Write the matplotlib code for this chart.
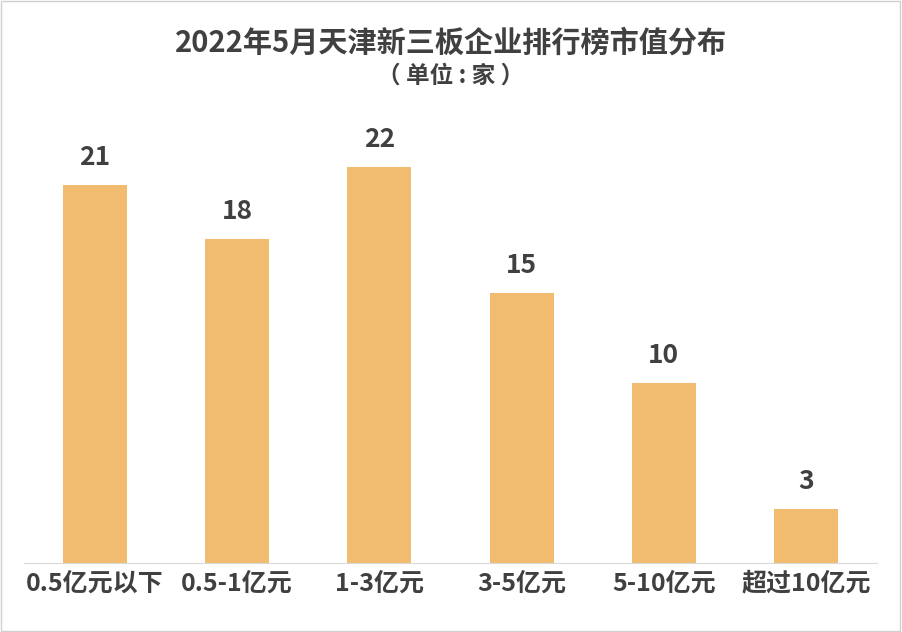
import matplotlib
matplotlib.use("Agg")
import matplotlib.pyplot as plt
from matplotlib.patches import Rectangle

plt.rcParams['font.family'] = ['Noto Sans CJK SC', 'DejaVu Sans']

categories = ["0.5亿元以下", "0.5-1亿元", "1-3亿元", "3-5亿元", "5-10亿元", "超过10亿元"]
values = [21, 18, 22, 15, 10, 3]
title = "2022年5月天津新三板企业排行榜市值分布"
subtitle = "（ 单位 : 家 ）"

W, H = 902, 632
fig = plt.figure(figsize=(W/100, H/100), dpi=100)
fig.patches.append(Rectangle((0.001, 0.002), 0.997, 0.996, transform=fig.transFigure,
                             fill=False, edgecolor="#d0d0d0", linewidth=1))
ax = fig.add_axes([24/W, 1-563/H, 853/W, 463/H])
x = range(len(categories))
ax.bar(x, values, width=0.45, color="#F2BC70")
ax.set_xlim(-0.5, len(categories)-0.5)
ax.set_ylim(0, 463/18)
for i, v in zip(x, values):
    ax.text(i, v + 0.8, str(v), ha="center", va="bottom", fontsize=19, fontweight="bold", color="#404040")
ax.set_xticks(list(x))
ax.set_xticklabels(categories, fontsize=18, fontweight="bold", color="#404040")
ax.tick_params(axis="x", length=0, pad=6)
ax.set_yticks([])
for s in ["top", "right", "left"]:
    ax.spines[s].set_visible(False)
ax.spines["bottom"].set_color("#d9d9d9")
fig.text(0.5, 1-43/H, title, ha="center", va="center", fontsize=21, fontweight="bold", color="#404040")
fig.text(0.5, 1-76/H, subtitle, ha="center", va="center", fontsize=17, fontweight="bold", color="#404040")
fig.savefig("out.png", dpi=100)
